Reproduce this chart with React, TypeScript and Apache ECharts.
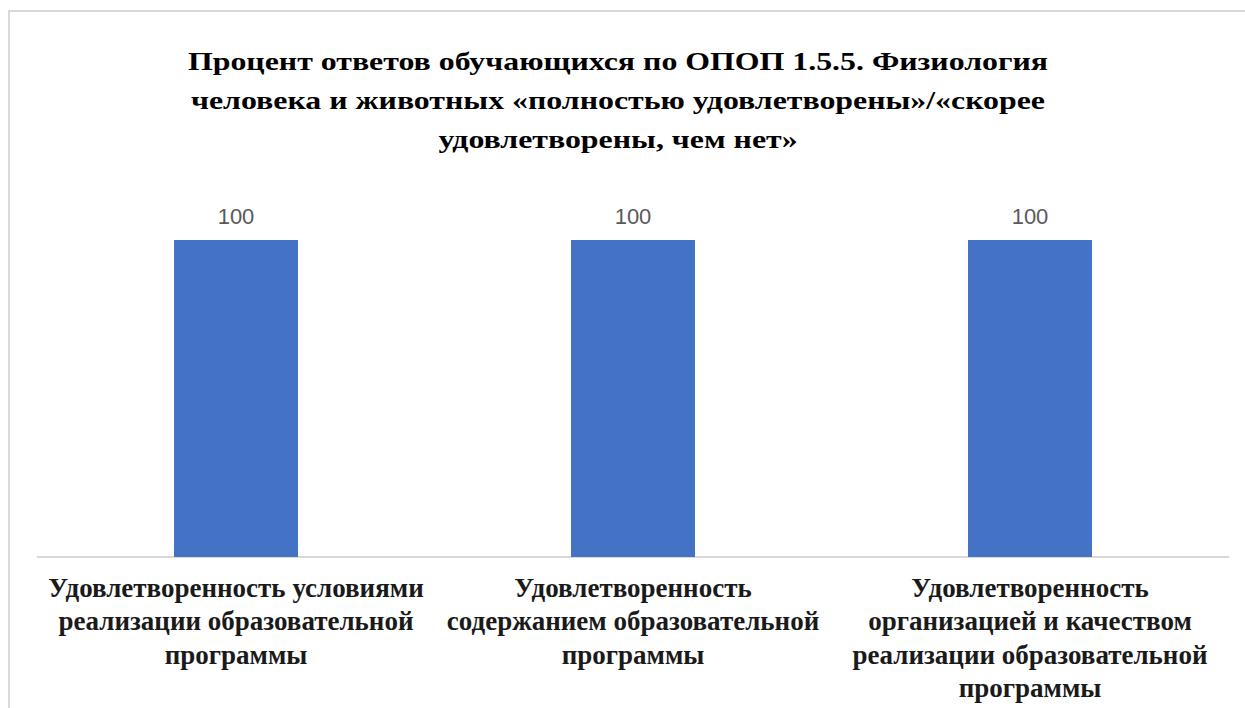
import React, { useEffect, useRef } from "react";
import * as echarts from "echarts";

const titleText =
  "Процент ответов обучающихся по ОПОП 1.5.5. Физиология\nчеловека и животных «полностью удовлетворены»/«скорее\nудовлетворены, чем нет»";

const categories = [
  "Удовлетворенность условиями\nреализации образовательной\nпрограммы",
  "Удовлетворенность\nсодержанием образовательной\nпрограммы",
  "Удовлетворенность\nорганизацией и качеством\nреализации образовательной\nпрограммы",
];

const values = [100, 100, 100];

const SERIF = "'Liberation Serif', 'Times New Roman', serif";

export default function App() {
  const ref = useRef<HTMLDivElement>(null);
  useEffect(() => {
    if (!ref.current) return;
    const chart = echarts.init(ref.current, undefined, { renderer: "svg" });
    chart.setOption({
      animation: false,
      backgroundColor: "#ffffff",
      graphic: [
        {
          type: "rect",
          shape: { x: 9, y: 11, width: 1400, height: 900 },
          style: { fill: "none", stroke: "#d9d9d9", lineWidth: 2 },
          silent: true,
          z: 0,
        },
        {
          type: "text",
          x: 618,
          y: 42,
          scaleX: 1.225,
          silent: true,
          style: {
            text: titleText,
            fontFamily: SERIF,
            fontWeight: "bold",
            fontSize: 26,
            lineHeight: 39,
            fill: "#000000",
            align: "center",
            verticalAlign: "top",
          },
        },
      ],
      grid: { left: 37.5, width: 1191, top: 240, bottom: 151, containLabel: false },
      xAxis: {
        type: "category",
        data: categories,
        axisLine: { show: true, lineStyle: { color: "#d9d9d9", width: 2 } },
        axisTick: { show: false },
        axisLabel: {
          interval: 0,
          margin: 14,
          fontFamily: SERIF,
          fontWeight: "bold",
          fontSize: 27,
          lineHeight: 33.5,
          color: "#1a1a1a",
        },
      },
      yAxis: {
        type: "value",
        min: 0,
        max: 100,
        show: false,
        splitLine: { show: false },
      },
      series: [
        {
          type: "bar",
          data: values,
          barWidth: 124,
          itemStyle: { color: "#4472C4" },
          label: {
            show: true,
            position: "top",
            distance: 13,
            fontFamily: "'Liberation Sans', sans-serif",
            fontSize: 22,
            color: "#595959",
          },
        },
      ],
    });
    return () => chart.dispose();
  }, []);
  return (
    <div
      ref={ref}
      style={{ position: "fixed", left: 0, top: 0, width: 1245, height: 708 }}
    />
  );
}
